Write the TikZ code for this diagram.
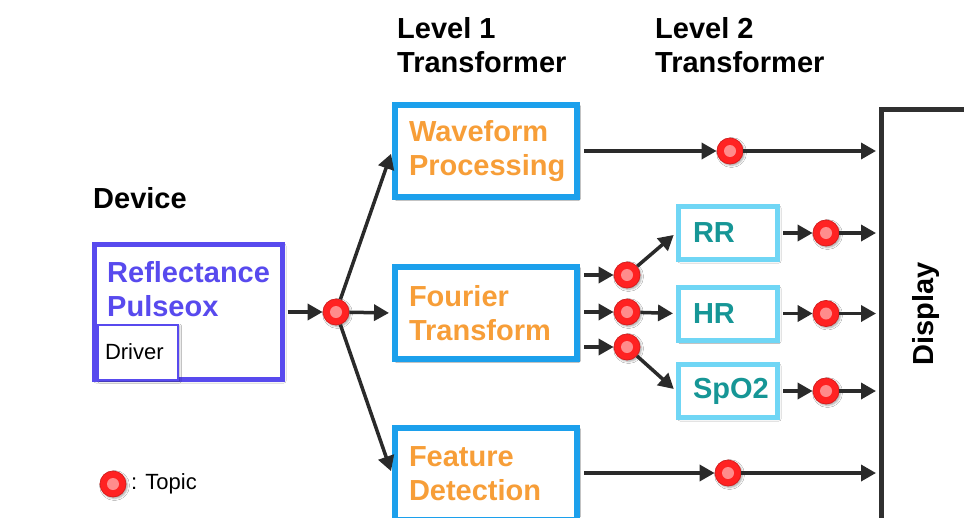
\documentclass[tikz,border=0pt]{standalone}
\usepackage{fontspec}
\setmainfont{Liberation Sans}
\usetikzlibrary{arrows.meta,shadows.blur}

\definecolor{devpurple}{RGB}{88,74,238}
\definecolor{boxblue}{RGB}{28,160,236}
\definecolor{procorange}{RGB}{247,158,56}
\definecolor{leafblue}{RGB}{112,214,245}
\definecolor{leafteal}{RGB}{22,150,150}
\definecolor{topicred}{RGB}{255,34,34}
\definecolor{topicpink}{RGB}{255,140,140}
\definecolor{flowgray}{RGB}{42,42,42}
\definecolor{dispgray}{RGB}{48,48,48}

\begin{document}
\begin{tikzpicture}[x=1pt,y=-1pt,
  big/.style={font=\fontsize{29}{34}\selectfont\bfseries},
  small/.style={font=\fontsize{22}{26}\selectfont},
  softshadow/.style={blur shadow={shadow xshift=1.5pt,shadow yshift=-1.5pt,
      shadow blur radius=2pt,shadow opacity=35}},
  lvlone/.style={draw=boxblue, line width=6pt, fill=white, softshadow,
      minimum width=182pt, minimum height=92pt, text width=154pt,
      inner xsep=14pt, inner ysep=0pt, align=left, text=procorange, big},
  lvltwo/.style={draw=leafblue, line width=5pt, fill=white, softshadow,
      minimum width=99pt, minimum height=53pt, text width=70pt,
      inner xsep=14.5pt, inner ysep=0pt, align=left, text=leafteal, big},
  topic/.style={circle, fill=topicred, draw=topicred!85!black, line width=0.8pt,
      minimum size=26pt, inner sep=0pt, softshadow,
      path picture={\fill[topicpink] (path picture bounding box.center) circle (6pt);}},
  flow/.style={draw=flowgray, line width=3.5pt, -{Triangle[length=15pt,width=16pt]}},
  plain/.style={inner sep=0pt, anchor=west}
]
\clip (0,0) rectangle (964,517);
\fill[white] (0,0) rectangle (964,517);

% column headings
\node[plain, big, align=left] (hdone) at (397,45) {Level 1\\Transformer};
\node[plain, big, align=left] (hdtwo) at (655,45) {Level 2\\Transformer};
\node[plain, big] (hddev) at (93,198) {Device};

% device block with its driver
\node[draw=devpurple, line width=5pt, fill=white, softshadow,
      minimum width=188pt, minimum height=135pt] (dev) at (188.5,312) {};
\node[plain, big, text=devpurple, align=left] (devtxt) at (107,289) {Reflectance\\Pulseox};
\node[draw=devpurple, line width=2pt, fill=white, softshadow,
      minimum width=80pt, minimum height=55pt, text width=66pt, inner xsep=7pt,
      align=left, small] (drv) at (138,352) {Driver};

% display sink
\node[draw=dispgray, line width=5pt, fill=white, softshadow,
      minimum width=200pt, minimum height=460pt, anchor=north west] (disp) at (879,107) {};
\node[big, rotate=90, inner sep=0pt] (displabel) at (926,314) {Display};

% level 1 transformers
\node[lvlone] (wf) at (486,151) {Waveform\\Processing};
\node[lvlone] (ft) at (486,313) {Fourier\\Transform};
\node[lvlone] (fd) at (486,474) {Feature\\Detection};

% level 2 transformers
\node[lvltwo] (rr) at (728,233) {RR};
\node[lvltwo] (hr) at (728,313.5) {HR};
\node[lvltwo] (spo) at (728,391) {SpO2};

% topics
\node[topic] (tdev) at (336,312) {};
\node[topic] (twf) at (730,151) {};
\node[topic] (tfa) at (627,275) {};
\node[topic] (tfb) at (627,312) {};
\node[topic] (tfc) at (627,347) {};
\node[topic] (trr) at (826,233) {};
\node[topic] (thr) at (826,313.5) {};
\node[topic] (tspo) at (826,391) {};
\node[topic] (tfd) at (728,473) {};

% device to level 1
\draw[flow, shorten <=2.5pt] (dev.east |- tdev) -- (tdev);
\draw[flow, shorten >=3pt] (tdev) -- (wf.west);
\draw[flow, shorten >=3pt] (tdev) -- (ft.west);
\draw[flow, shorten >=3pt] (tdev) -- (fd.west);

% waveform processing output
\draw[flow, shorten <=4pt] (wf.east |- twf) -- (twf);
\draw[flow, shorten >=3pt] (twf) -- (twf -| disp.west);

% fourier transform outputs
\draw[flow, shorten <=4pt] (ft.east |- tfa) -- (tfa);
\draw[flow, shorten <=4pt] (ft.east |- tfb) -- (tfb);
\draw[flow, shorten <=4pt] (ft.east |- tfc) -- (tfc);
\draw[flow, shorten >=3pt] (tfa) -- (rr.west);
\draw[flow, shorten >=3pt] (tfb) -- (hr.west);
\draw[flow, shorten >=3pt] (tfc) -- (spo.west);

% level 2 outputs
\draw[flow, shorten <=3pt] (rr.east) -- (trr);
\draw[flow, shorten <=3pt] (hr.east) -- (thr);
\draw[flow, shorten <=3pt] (spo.east) -- (tspo);
\draw[flow, shorten >=3pt] (trr) -- (trr -| disp.west);
\draw[flow, shorten >=3pt] (thr) -- (thr -| disp.west);
\draw[flow, shorten >=3pt] (tspo) -- (tspo -| disp.west);

% feature detection output
\draw[flow, shorten <=4pt] (fd.east |- tfd) -- (tfd);
\draw[flow, shorten >=3pt] (tfd) -- (tfd -| disp.west);

% legend
\node[topic] (legtopic) at (113,484) {};
\node[plain, small] (legtext) at (131,484) {: Topic};
\end{tikzpicture}
\end{document}
